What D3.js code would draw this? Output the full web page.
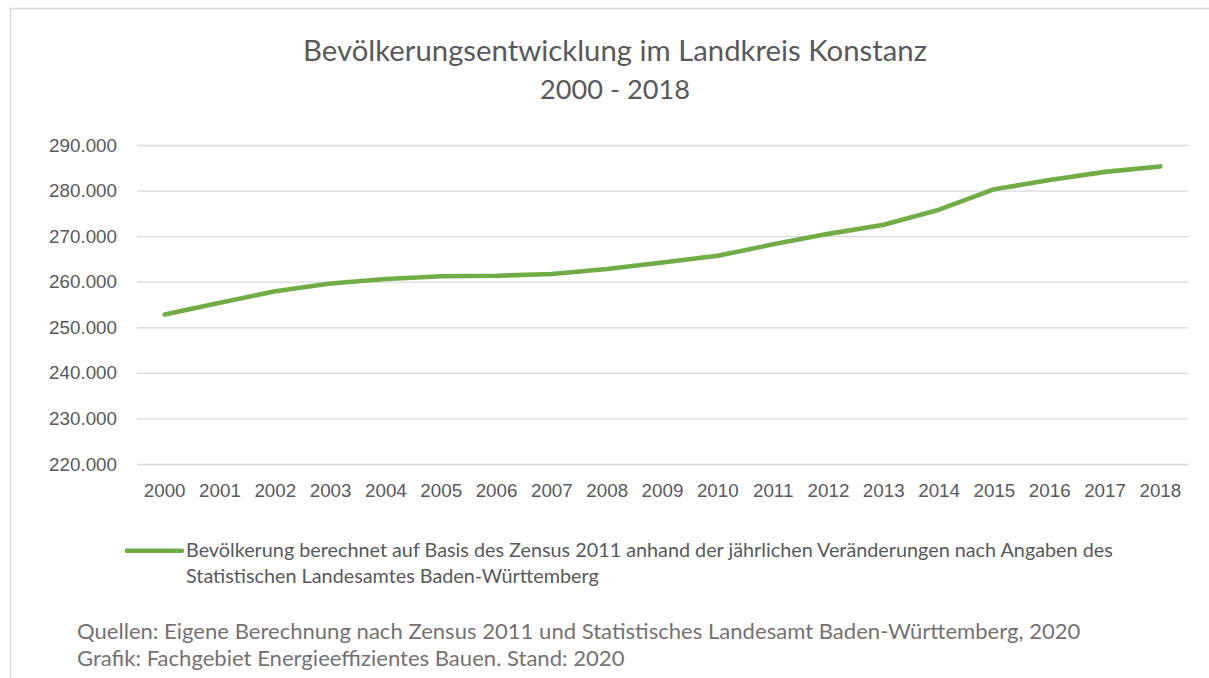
<!DOCTYPE html>
<html>
<head>
<meta charset="utf-8">
<script src="https://cdn.jsdelivr.net/npm/d3@7"></script>
<style>
  html, body { margin: 0; padding: 0; background: #fff; overflow: hidden; }
  svg { display: block; font-family: Lato, "Open Sans", sans-serif; }
</style>
</head>
<body>
<svg id="chart" width="1209" height="678"></svg>
<script>
// Bevoelkerung Landkreis Konstanz
const years = ['2000', '2001', '2002', '2003', '2004', '2005', '2006', '2007', '2008', '2009',
               '2010', '2011', '2012', '2013', '2014', '2015', '2016', '2017', '2018']
const population = [252800, 255400, 257900, 259600, 260600, 261200, 261300, 261700, 262800, 264200,
                    265700, 268200, 270500, 272500, 275800, 280300, 282300, 284100, 285300]
const yTicks = [220000, 230000, 240000, 250000, 260000, 270000, 280000, 290000]

const titleLines = ['Bevölkerungsentwicklung im Landkreis Konstanz', '2000 - 2018']
const legendLines = ['Bevölkerung berechnet auf Basis des Zensus 2011 anhand der jährlichen Veränderungen nach Angaben des',
                     'Statistischen Landesamtes Baden-Württemberg']
const footerLines = ['Quellen: Eigene Berechnung nach Zensus 2011 und Statistisches Landesamt Baden-Württemberg, 2020',
                     'Grafik: Fachgebiet Energieeffizientes Bauen. Stand: 2020']

const svg = d3.select('#chart')
const plot = { left: 137, right: 1188, top: 145, bottom: 464 }
const green = '#70ad47'
const grey = '#d9d9d9'
const textColor = '#595959'

// german number format, "290.000"
const de = d3.formatLocale({ decimal: ',', thousands: '.', grouping: [3], currency: ['', ' €'] })
const fmt = de.format(',')

// shrink / grow font so that a text line spans the given width (Calibri is not installed)
function fitWidth(sel, width, size) {
  sel.attr('font-size', size)
  const w = sel.node().getComputedTextLength()
  sel.attr('font-size', (size * width / w).toFixed(2))
}

// chart area frame, only left and top edge are visible in the picture
svg.append('rect')
   .attr('x', 10.5).attr('y', 8.5)
   .attr('width', 1250).attr('height', 700)
   .attr('fill', 'none').attr('stroke', grey).attr('stroke-width', 1.5)

const x = d3.scaleBand().domain(years).range([plot.left, plot.right])
const y = d3.scaleLinear().domain([220000, 290000]).range([plot.bottom, plot.top])
const xc = d => x(d) + x.bandwidth() / 2

// gridlines
svg.append('g')
   .attr('class', 'grid')
   .attr('transform', `translate(${plot.left},0)`)
   .call(d3.axisLeft(y).tickValues(yTicks).tickSize(-(plot.right - plot.left)).tickFormat(''))
   .call(g => g.select('.domain').remove())
   .selectAll('line').attr('stroke', grey).attr('stroke-width', 1.3)

// y axis labels
svg.append('g')
   .attr('transform', `translate(${plot.left},0)`)
   .call(d3.axisLeft(y).tickValues(yTicks).tickSize(0).tickPadding(20).tickFormat(fmt))
   .call(g => g.select('.domain').remove())
   .selectAll('text')
   .attr('fill', textColor).attr('font-size', 18.8).attr('font-family', null)

// x axis labels
svg.append('g')
   .attr('transform', `translate(0,${plot.bottom})`)
   .call(d3.axisBottom(x).tickSize(0).tickPadding(20))
   .call(g => g.select('.domain').remove())
   .selectAll('text')
   .attr('fill', textColor).attr('font-size', 18.8).attr('font-family', null)

// population line
const line = d3.line()
  .x((d, i) => xc(years[i]))
  .y(d => y(d))

svg.append('path')
   .datum(population)
   .attr('d', line)
   .attr('fill', 'none')
   .attr('stroke', green)
   .attr('stroke-width', 4.6)
   .attr('stroke-linejoin', 'round')
   .attr('stroke-linecap', 'round')

// title
svg.append('text')
   .attr('x', 615).attr('y', 61)
   .attr('text-anchor', 'middle').attr('fill', textColor)
   .text(titleLines[0])
   .call(fitWidth, 624, 25)
svg.append('text')
   .attr('x', 615).attr('y', 99)
   .attr('text-anchor', 'middle').attr('fill', textColor)
   .text(titleLines[1])
   .call(fitWidth, 150, 26)

// legend
svg.append('line')
   .attr('x1', 127).attr('x2', 182)
   .attr('y1', 550.7).attr('y2', 550.7)
   .attr('stroke', green).attr('stroke-width', 4.6).attr('stroke-linecap', 'round')

const legendText = svg.append('g').attr('fill', textColor)
legendText.append('text').attr('x', 186).attr('y', 556.5).text(legendLines[0]).call(fitWidth, 927, 16)
legendText.append('text').attr('x', 186).attr('y', 582.5).text(legendLines[1])
   .attr('font-size', legendText.select('text').attr('font-size'))

// sources
const footer = svg.append('g').attr('fill', '#767171')
footer.append('text').attr('x', 77).attr('y', 639).text(footerLines[0]).call(fitWidth, 1004, 18)
footer.append('text').attr('x', 77).attr('y', 666).text(footerLines[1])
   .attr('font-size', footer.select('text').attr('font-size'))
</script>
</body>
</html>
